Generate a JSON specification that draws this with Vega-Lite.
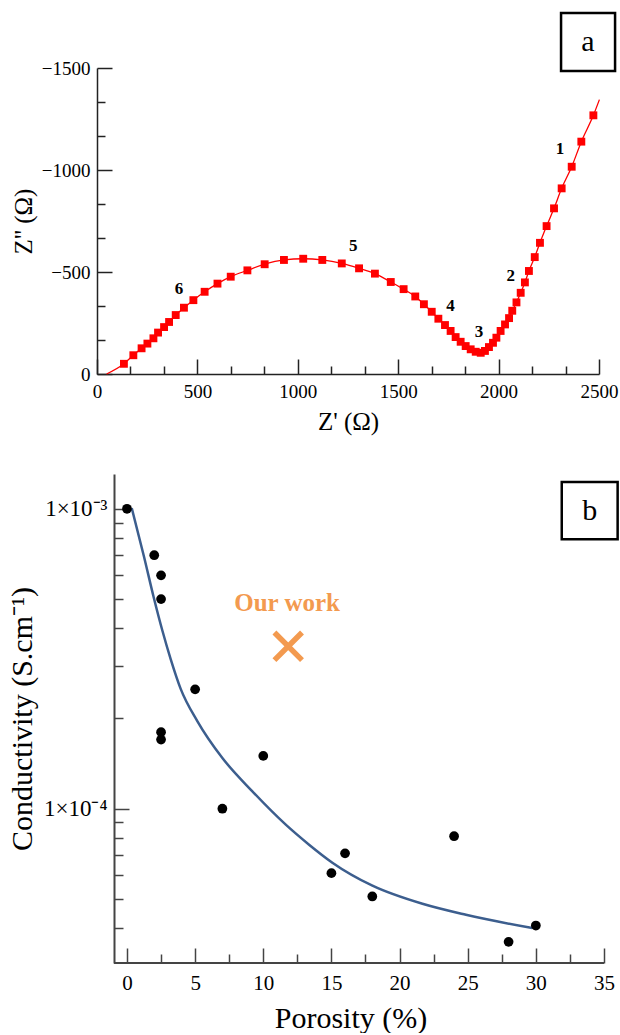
{
  "$schema": "https://vega.github.io/schema/vega-lite/v6.json",
  "background": "white",
  "padding": {"left": 7, "top": 11, "right": 2, "bottom": 0},
  "spacing": 40,
  "config": {
    "font": "Liberation Serif",
    "view": {"stroke": null},
    "axis": {
      "grid": false,
      "domainColor": "#222",
      "tickColor": "#222",
      "labelColor": "#000",
      "titleColor": "#000",
      "labelFont": "Liberation Serif",
      "titleFont": "Liberation Serif",
      "titleFontWeight": "normal",
      "labelFlush": false,
      "labelOverlap": false
    }
  },
  "datasets": {
    "nyquist": [
      {"zr": 48, "zi": 0, "kind": "end"},
      {"zr": 134, "zi": -50, "kind": "pt"},
      {"zr": 181, "zi": -92, "kind": "pt"},
      {"zr": 222, "zi": -126, "kind": "pt"},
      {"zr": 251, "zi": -149, "kind": "pt"},
      {"zr": 281, "zi": -175, "kind": "pt"},
      {"zr": 304, "zi": -203, "kind": "pt"},
      {"zr": 334, "zi": -230, "kind": "pt"},
      {"zr": 359, "zi": -255, "kind": "pt"},
      {"zr": 392, "zi": -289, "kind": "pt"},
      {"zr": 433, "zi": -325, "kind": "pt"},
      {"zr": 480, "zi": -362, "kind": "pt"},
      {"zr": 536, "zi": -403, "kind": "pt"},
      {"zr": 600, "zi": -443, "kind": "pt"},
      {"zr": 666, "zi": -477, "kind": "pt"},
      {"zr": 749, "zi": -508, "kind": "pt"},
      {"zr": 835, "zi": -538, "kind": "pt"},
      {"zr": 931, "zi": -559, "kind": "pt"},
      {"zr": 1027, "zi": -565, "kind": "pt"},
      {"zr": 1122, "zi": -559, "kind": "pt"},
      {"zr": 1219, "zi": -542, "kind": "pt"},
      {"zr": 1305, "zi": -518, "kind": "pt"},
      {"zr": 1384, "zi": -492, "kind": "pt"},
      {"zr": 1463, "zi": -451, "kind": "pt"},
      {"zr": 1527, "zi": -416, "kind": "pt"},
      {"zr": 1585, "zi": -380, "kind": "pt"},
      {"zr": 1628, "zi": -342, "kind": "pt"},
      {"zr": 1667, "zi": -305, "kind": "pt"},
      {"zr": 1700, "zi": -271, "kind": "pt"},
      {"zr": 1733, "zi": -240, "kind": "pt"},
      {"zr": 1761, "zi": -211, "kind": "pt"},
      {"zr": 1786, "zi": -181, "kind": "pt"},
      {"zr": 1811, "zi": -158, "kind": "pt"},
      {"zr": 1836, "zi": -137, "kind": "pt"},
      {"zr": 1861, "zi": -121, "kind": "pt"},
      {"zr": 1886, "zi": -109, "kind": "pt"},
      {"zr": 1911, "zi": -104, "kind": "pt"},
      {"zr": 1932, "zi": -113, "kind": "pt"},
      {"zr": 1952, "zi": -132, "kind": "pt"},
      {"zr": 1972, "zi": -153, "kind": "pt"},
      {"zr": 1989, "zi": -178, "kind": "pt"},
      {"zr": 2010, "zi": -211, "kind": "pt"},
      {"zr": 2032, "zi": -243, "kind": "pt"},
      {"zr": 2052, "zi": -274, "kind": "pt"},
      {"zr": 2068, "zi": -310, "kind": "pt"},
      {"zr": 2089, "zi": -351, "kind": "pt"},
      {"zr": 2110, "zi": -398, "kind": "pt"},
      {"zr": 2131, "zi": -449, "kind": "pt"},
      {"zr": 2151, "zi": -505, "kind": "pt"},
      {"zr": 2180, "zi": -573, "kind": "pt"},
      {"zr": 2206, "zi": -643, "kind": "pt"},
      {"zr": 2239, "zi": -725, "kind": "pt"},
      {"zr": 2276, "zi": -812, "kind": "pt"},
      {"zr": 2314, "zi": -910, "kind": "pt"},
      {"zr": 2364, "zi": -1016, "kind": "pt"},
      {"zr": 2412, "zi": -1139, "kind": "pt"},
      {"zr": 2472, "zi": -1268, "kind": "pt"},
      {"zr": 2502, "zi": -1345, "kind": "end"}
    ],
    "nyquistLabels": [
      {"zr": 2306, "zi": -1101, "label": "1"},
      {"zr": 2060, "zi": -480, "label": "2"},
      {"zr": 1902, "zi": -207, "label": "3"},
      {"zr": 1761, "zi": -333, "label": "4"},
      {"zr": 1276, "zi": -627, "label": "5"},
      {"zr": 408, "zi": -415, "label": "6"}
    ],
    "tagA": [
      {"x1": 2311, "x2": 2580, "y1": -1769, "y2": -1485, "xc": 2445, "yc": -1627, "label": "a"}
    ],
    "fit": [
      {"p": 0.35, "s": 0.001005},
      {"p": 1.25, "s": 0.000692},
      {"p": 1.95, "s": 0.000509},
      {"p": 2.6, "s": 0.000392},
      {"p": 3.2, "s": 0.000316},
      {"p": 3.94, "s": 0.000251},
      {"p": 5.16, "s": 0.000196},
      {"p": 7.0, "s": 0.0001476},
      {"p": 9.2, "s": 0.0001143},
      {"p": 11.65, "s": 0.0000885},
      {"p": 13.36, "s": 0.0000759},
      {"p": 15.07, "s": 0.0000661},
      {"p": 18.01, "s": 0.0000554},
      {"p": 21.68, "s": 0.0000482},
      {"p": 24.87, "s": 0.0000443},
      {"p": 29.74, "s": 0.00004}
    ],
    "lit": [
      {"p": 0, "s": 0.001},
      {"p": 2, "s": 0.0007},
      {"p": 2.5, "s": 0.0006},
      {"p": 2.5, "s": 0.0005},
      {"p": 5, "s": 0.00025},
      {"p": 2.5, "s": 0.00018},
      {"p": 2.5, "s": 0.00017},
      {"p": 10, "s": 0.00015},
      {"p": 7, "s": 0.0001},
      {"p": 15, "s": 0.000061},
      {"p": 16, "s": 0.000071},
      {"p": 18, "s": 0.000051},
      {"p": 24, "s": 0.000081},
      {"p": 28, "s": 0.000036},
      {"p": 30, "s": 0.0000408}
    ],
    "baseline": [
      {"p1": -0.95, "p2": 35, "s": 0.0000306}
    ],
    "ours": [
      {"p": 11.83, "s": 0.000348}
    ],
    "oursLabel": [
      {"p": 11.75, "s": 0.000486, "label": "Our work"}
    ],
    "tagB": [
      {"x1": 31.9, "x2": 36.0, "y1": 0.000792, "y2": 0.001228, "xc": 33.95, "yc": 0.000986, "label": "b"}
    ]
  },
  "vconcat": [
    {
      "width": 502,
      "height": 306,
      "encoding": {
        "x": {
          "field": "zr",
          "type": "quantitative",
          "title": "Z' (Ω)",
          "scale": {"domain": [0, 2500], "nice": false, "zero": false},
          "axis": {
            "values": [0, 166.667, 333.333, 500, 666.667, 833.333, 1000, 1166.667, 1333.333, 1500, 1666.667, 1833.333, 2000, 2166.667, 2333.333, 2500],
            "labelExpr": "abs(datum.value % 500) < 1 ? format(datum.value, 'd') : ''",
            "tickSize": {"condition": {"test": "abs(datum.value % 500) < 1", "value": -15}, "value": -8},
            "tickWidth": 1.5,
            "domainWidth": 1.5,
            "labelPadding": 23,
            "labelFontSize": 19,
            "titleFontSize": 25,
            "titlePadding": 1
          }
        },
        "y": {
          "field": "zi",
          "type": "quantitative",
          "title": "Z'' (Ω)",
          "scale": {"domain": [0, -1500], "nice": false, "zero": false},
          "axis": {
            "values": [0, -166.667, -333.333, -500, -666.667, -833.333, -1000, -1166.667, -1333.333, -1500],
            "labelExpr": "abs(datum.value % 500) < 1 ? format(datum.value, 'd') : ''",
            "tickSize": {"condition": {"test": "abs(datum.value % 500) < 1", "value": -15}, "value": -8},
            "tickWidth": 1.5,
            "domainWidth": 1.5,
            "labelPadding": 22,
            "labelFontSize": 19,
            "titleFontSize": 25,
            "titlePadding": 5
          }
        }
      },
      "layer": [
        {
          "data": {"name": "nyquist"},
          "mark": {"type": "line", "color": "#ff0000", "strokeWidth": 1.3, "interpolate": "monotone"}
        },
        {
          "data": {"name": "nyquist"},
          "transform": [{"filter": "datum.kind == 'pt'"}],
          "mark": {"type": "point", "shape": "square", "filled": true, "color": "#ff0000", "size": 62, "opacity": 1}
        },
        {
          "data": {"name": "nyquistLabels"},
          "mark": {"type": "text", "fontWeight": "bold", "fontSize": 17, "color": "#000", "align": "center", "baseline": "middle"},
          "encoding": {"text": {"field": "label"}}
        },
        {
          "data": {"name": "tagA"},
          "mark": {"type": "rect", "fill": "white", "stroke": "#000", "strokeWidth": 2.5},
          "encoding": {
            "x": {"field": "x1", "type": "quantitative"},
            "x2": {"field": "x2"},
            "y": {"field": "y1", "type": "quantitative"},
            "y2": {"field": "y2"}
          }
        },
        {
          "data": {"name": "tagA"},
          "mark": {"type": "text", "fontSize": 30, "color": "#000", "align": "center", "baseline": "middle"},
          "encoding": {
            "x": {"field": "xc", "type": "quantitative"},
            "y": {"field": "yc", "type": "quantitative"},
            "text": {"field": "label"}
          }
        }
      ]
    },
    {
      "width": 507,
      "height": 489,
      "encoding": {
        "x": {
          "field": "p",
          "type": "quantitative",
          "title": "Porosity (%)",
          "scale": {"domain": [-2.2, 35], "nice": false, "zero": false},
          "axis": {
            "values": [0, 2.5, 5, 7.5, 10, 12.5, 15, 17.5, 20, 22.5, 25, 27.5, 30, 32.5, 35],
            "labelExpr": "datum.value % 5 == 0 ? format(datum.value, 'd') : ''",
            "tickSize": {"condition": {"test": "datum.value % 5 == 0", "value": -15}, "value": -9},
            "tickWidth": 1.5,
            "domain": false,
            "tickColor": "#444",
            "labelPadding": 24,
            "labelFontSize": 21,
            "titleFontSize": 30,
            "titlePadding": 4
          }
        },
        "y": {
          "field": "s",
          "type": "quantitative",
          "title": "Conductivity (S.cm⁻¹)",
          "scale": {"type": "log", "domain": [0.0000306, 0.001306], "nice": false},
          "axis": {
            "offset": -17,
            "values": [0.00004, 0.00005, 0.00006, 0.00007, 0.00008, 0.00009, 0.0001, 0.0002, 0.0003, 0.0004, 0.0005, 0.0006, 0.0007, 0.0008, 0.0009, 0.001],
            "labelExpr": "abs(datum.value - 0.001) < 1e-9 ? '1×10⁻³' : (abs(datum.value - 0.0001) < 1e-10 ? '1×10⁻⁴' : '')",
            "tickSize": {"condition": {"test": "abs(datum.value - 0.001) < 1e-9 || abs(datum.value - 0.0001) < 1e-10", "value": -15}, "value": -9},
            "tickWidth": 1.5,
            "domainWidth": 2,
            "domainColor": "#444",
            "tickColor": "#444",
            "labelPadding": 22,
            "labelFontSize": 23,
            "titleFontSize": 30,
            "titlePadding": 6
          }
        }
      },
      "layer": [
        {
          "data": {"name": "baseline"},
          "mark": {"type": "rule", "color": "#444", "strokeWidth": 2},
          "encoding": {
            "x": {"field": "p1", "type": "quantitative"},
            "x2": {"field": "p2"},
            "y": {"field": "s", "type": "quantitative"}
          }
        },
        {
          "data": {"name": "fit"},
          "mark": {"type": "line", "color": "#3c5e8e", "strokeWidth": 2.5, "interpolate": "monotone"}
        },
        {
          "data": {"name": "lit"},
          "mark": {"type": "circle", "color": "#000", "size": 95, "opacity": 1}
        },
        {
          "data": {"name": "ours"},
          "mark": {"type": "point", "shape": "M-1,-1L1,1M-1,1L1,-1", "filled": false, "stroke": "#f39a4f", "strokeWidth": 5.5, "size": 760, "opacity": 1}
        },
        {
          "data": {"name": "oursLabel"},
          "mark": {"type": "text", "fontWeight": "bold", "fontSize": 25, "color": "#f39a4f", "align": "center", "baseline": "middle"},
          "encoding": {"text": {"field": "label"}}
        },
        {
          "data": {"name": "tagB"},
          "mark": {"type": "rect", "fill": "white", "stroke": "#000", "strokeWidth": 2.5},
          "encoding": {
            "x": {"field": "x1", "type": "quantitative"},
            "x2": {"field": "x2"},
            "y": {"field": "y1", "type": "quantitative"},
            "y2": {"field": "y2"}
          }
        },
        {
          "data": {"name": "tagB"},
          "mark": {"type": "text", "fontSize": 30, "color": "#000", "align": "center", "baseline": "middle"},
          "encoding": {
            "x": {"field": "xc", "type": "quantitative"},
            "y": {"field": "yc", "type": "quantitative"},
            "text": {"field": "label"}
          }
        }
      ]
    }
  ]
}
